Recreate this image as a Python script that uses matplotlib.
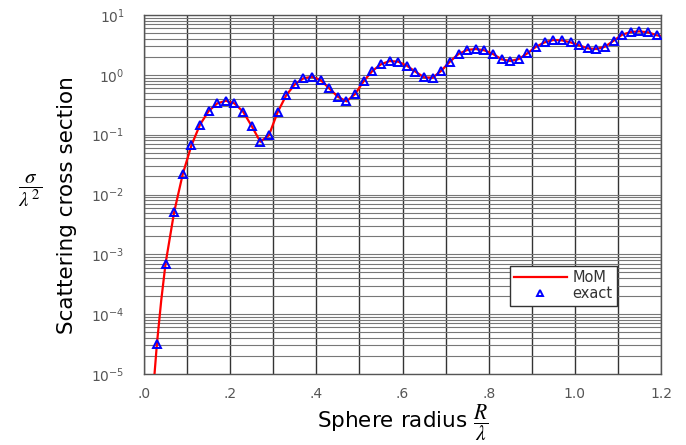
import numpy as np
import matplotlib
matplotlib.use("Agg")
from matplotlib import pyplot as plt
from matplotlib.ticker import LogLocator, NullFormatter, FixedLocator

# exact (Mie) values
x_exact = [0.03, 0.05, 0.07, 0.09, 0.11, 0.13, 0.15, 0.17, 0.19, 0.21,
           0.23, 0.25, 0.27, 0.29, 0.31, 0.33, 0.35, 0.37, 0.39, 0.41,
           0.43, 0.45, 0.47, 0.49, 0.51, 0.53, 0.55, 0.57, 0.59, 0.61,
           0.63, 0.65, 0.67, 0.69, 0.71, 0.73, 0.75, 0.77, 0.79, 0.81,
           0.83, 0.85, 0.87, 0.89, 0.91, 0.93, 0.95, 0.97, 0.99, 1.01,
           1.03, 1.05, 1.07, 1.09, 1.11, 1.13, 1.15, 1.17, 1.19]
y_exact = [3.2e-5, 7.0e-4, 5.1e-3, 0.022, 0.066, 0.147, 0.248, 0.333, 0.369, 0.333,
           0.242, 0.139, 0.076, 0.098, 0.236, 0.454, 0.693, 0.873, 0.93, 0.82,
           0.594, 0.43, 0.36, 0.477, 0.787, 1.16, 1.50, 1.70, 1.66, 1.42,
           1.13, 0.908, 0.895, 1.17, 1.66, 2.23, 2.60, 2.70, 2.57, 2.23,
           1.82, 1.70, 1.84, 2.29, 2.95, 3.49, 3.82, 3.77, 3.49, 3.11,
           2.77, 2.70, 2.95, 3.72, 4.69, 5.20, 5.33, 5.14, 4.58]

# MoM curve
x_mom = [0.02, 0.03, 0.04, 0.05, 0.07, 0.09, 0.11, 0.13, 0.15, 0.17, 0.19, 0.21,
         0.23, 0.25, 0.27, 0.29, 0.31, 0.33, 0.35, 0.37, 0.39, 0.41,
         0.43, 0.45, 0.47, 0.49, 0.51, 0.53, 0.55, 0.57, 0.59, 0.61,
         0.63, 0.65, 0.67, 0.69, 0.71, 0.73, 0.75, 0.77, 0.79, 0.81,
         0.83, 0.85, 0.87, 0.89, 0.91, 0.93, 0.95, 0.97, 0.99, 1.01,
         1.03, 1.05, 1.07, 1.09, 1.11, 1.13, 1.15, 1.17, 1.19, 1.20]
y_mom = [4.0e-6, 3.2e-5, 1.7e-4, 7.0e-4, 5.1e-3, 0.022, 0.066, 0.147, 0.248, 0.333, 0.369, 0.333,
         0.242, 0.139, 0.076, 0.098, 0.236, 0.454, 0.693, 0.873, 0.93, 0.82,
         0.594, 0.43, 0.36, 0.477, 0.787, 1.16, 1.50, 1.70, 1.66, 1.42,
         1.13, 0.908, 0.895, 1.17, 1.66, 2.23, 2.60, 2.70, 2.57, 2.23,
         1.82, 1.70, 1.84, 2.29, 2.95, 3.49, 3.82, 3.77, 3.49, 3.11,
         2.77, 2.70, 2.95, 3.72, 4.69, 5.20, 5.33, 5.14, 4.58, 4.45]

xtick_vals = [0.0, 0.2, 0.4, 0.6, 0.8, 1.0, 1.2]
xtick_labels = [".0", ".2", ".4", ".6", ".8", "1.0", "1.2"]
ytick_vals = [1e-5, 1e-4, 1e-3, 1e-2, 1e-1, 1e0, 1e1]
ytick_labels = ["$10^{-5}$", "$10^{-4}$", "$10^{-3}$", "$10^{-2}$",
                "$10^{-1}$", "$10^{0}$", "$10^{1}$"]

fig = plt.figure(figsize=(6.86, 4.45), dpi=100)
ax = fig.add_axes([144 / 686, 1 - 374 / 445, 517 / 686, 359 / 445])

ax.plot(x_mom, y_mom, color="red", lw=1.6, label="MoM", zorder=3)
ax.plot(x_exact, y_exact, ls="none", marker="^", ms=5.3, mfc="none",
        mec="blue", mew=1.4, label="exact", zorder=4)

ax.set_yscale("log")
ax.set_xlim(0, 1.2)
ax.set_ylim(1e-5, 10)

ax.set_xticks(xtick_vals)
ax.set_xticklabels(xtick_labels)
ax.xaxis.set_minor_locator(FixedLocator(np.arange(0.1, 1.2, 0.2)))
ax.set_yticks(ytick_vals)
ax.set_yticklabels(ytick_labels)
ax.yaxis.set_minor_locator(LogLocator(base=10, subs=range(2, 10), numticks=100))
ax.yaxis.set_minor_formatter(NullFormatter())

ax.tick_params(which="both", length=0, colors="#555555", labelsize=10)
ax.tick_params(axis="x", pad=9)
ax.tick_params(axis="y", pad=14)

ax.grid(True, axis="y", which="both", color="#777777", lw=0.8)
ax.grid(True, axis="x", which="both", color="#333333", lw=1.0)
ax.set_axisbelow(True)
for s in ax.spines.values():
    s.set_color("#555555")
    s.set_linewidth(1.0)

leg = ax.legend(loc="lower right", bbox_to_anchor=(0.915, 0.19), fontsize=10.5,
                frameon=True, fancybox=False, framealpha=1, edgecolor="#333333",
                handlelength=3.6, handletextpad=0.4, borderpad=0.3,
                labelspacing=0.1, borderaxespad=0, markerscale=0.8)
leg.get_frame().set_linewidth(1.0)
for t in leg.get_texts():
    t.set_color("#333333")

ax.set_xlabel(r"Sphere radius $\dfrac{R}{\lambda}$", fontsize=15.5,
              math_fontfamily="stix", labelpad=1)
fig.text(67 / 686, 1 - 205 / 445, "Scattering cross section", rotation=90,
         ha="center", va="center", fontsize=15.5)
fig.text(30 / 686, 1 - 191 / 445, r"$\dfrac{\sigma}{\lambda^{\,2}}$", ha="center",
         va="center", fontsize=15, math_fontfamily="stix")

fig.savefig("out.png", dpi=100)
